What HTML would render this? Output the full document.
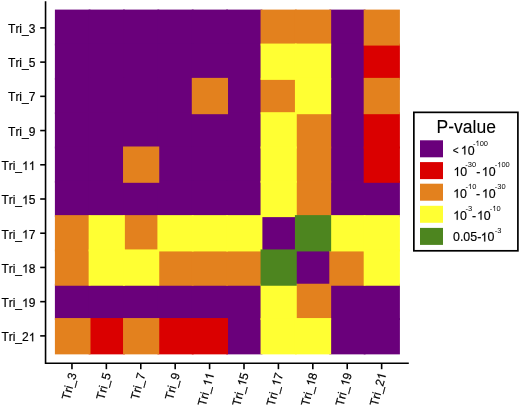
<!DOCTYPE html>
<html><head><meta charset="utf-8"><style>
html,body{margin:0;padding:0;background:#fff;width:520px;height:407px;overflow:hidden}
svg{display:block;will-change:transform}
text{font-family:"Liberation Sans",sans-serif;font-kerning:none;fill:#000;stroke:#000}
.t{font-size:12px;stroke-width:0.2px}
.lt{font-size:17.5px;stroke-width:0.1px}
.ll{font-size:12.4px;stroke-width:0.15px}
.ls{font-size:7.5px;stroke-width:0px;stroke:none}
</style></head><body>
<svg width="520" height="407" viewBox="0 0 520 407">
<g><rect x="54.90" y="9.60" width="35.59" height="35.97" fill="#6a007b"/><rect x="88.65" y="9.60" width="36.22" height="35.97" fill="#6a007b"/><rect x="123.03" y="9.60" width="36.22" height="35.97" fill="#6a007b"/><rect x="157.41" y="9.60" width="36.22" height="35.97" fill="#6a007b"/><rect x="191.79" y="9.60" width="36.22" height="35.97" fill="#6a007b"/><rect x="226.17" y="9.60" width="36.22" height="35.97" fill="#6a007b"/><rect x="329.31" y="9.60" width="36.22" height="35.97" fill="#6a007b"/><rect x="54.90" y="43.57" width="35.59" height="36.31" fill="#6a007b"/><rect x="88.65" y="43.57" width="36.22" height="36.31" fill="#6a007b"/><rect x="123.03" y="43.57" width="36.22" height="36.31" fill="#6a007b"/><rect x="157.41" y="43.57" width="36.22" height="36.31" fill="#6a007b"/><rect x="191.79" y="43.57" width="36.22" height="36.31" fill="#6a007b"/><rect x="226.17" y="43.57" width="36.22" height="36.31" fill="#6a007b"/><rect x="329.31" y="43.57" width="36.22" height="36.31" fill="#6a007b"/><rect x="54.90" y="77.88" width="35.59" height="36.31" fill="#6a007b"/><rect x="88.65" y="77.88" width="36.22" height="36.31" fill="#6a007b"/><rect x="123.03" y="77.88" width="36.22" height="36.31" fill="#6a007b"/><rect x="157.41" y="77.88" width="36.22" height="36.31" fill="#6a007b"/><rect x="226.17" y="77.88" width="36.22" height="36.31" fill="#6a007b"/><rect x="329.31" y="77.88" width="36.22" height="36.31" fill="#6a007b"/><rect x="54.90" y="112.19" width="35.59" height="36.31" fill="#6a007b"/><rect x="88.65" y="112.19" width="36.22" height="36.31" fill="#6a007b"/><rect x="123.03" y="112.19" width="36.22" height="36.31" fill="#6a007b"/><rect x="157.41" y="112.19" width="36.22" height="36.31" fill="#6a007b"/><rect x="191.79" y="112.19" width="36.22" height="36.31" fill="#6a007b"/><rect x="226.17" y="112.19" width="36.22" height="36.31" fill="#6a007b"/><rect x="329.31" y="112.19" width="36.22" height="36.31" fill="#6a007b"/><rect x="54.90" y="146.50" width="35.59" height="36.31" fill="#6a007b"/><rect x="88.65" y="146.50" width="36.22" height="36.31" fill="#6a007b"/><rect x="157.41" y="146.50" width="36.22" height="36.31" fill="#6a007b"/><rect x="191.79" y="146.50" width="36.22" height="36.31" fill="#6a007b"/><rect x="226.17" y="146.50" width="36.22" height="36.31" fill="#6a007b"/><rect x="329.31" y="146.50" width="36.22" height="36.31" fill="#6a007b"/><rect x="54.90" y="180.81" width="35.59" height="36.31" fill="#6a007b"/><rect x="88.65" y="180.81" width="36.22" height="36.31" fill="#6a007b"/><rect x="123.03" y="180.81" width="36.22" height="36.31" fill="#6a007b"/><rect x="157.41" y="180.81" width="36.22" height="36.31" fill="#6a007b"/><rect x="191.79" y="180.81" width="36.22" height="36.31" fill="#6a007b"/><rect x="226.17" y="180.81" width="36.22" height="36.31" fill="#6a007b"/><rect x="329.31" y="180.81" width="36.22" height="36.31" fill="#6a007b"/><rect x="363.69" y="180.81" width="36.21" height="36.31" fill="#6a007b"/><rect x="260.55" y="215.12" width="36.22" height="36.31" fill="#6a007b"/><rect x="294.93" y="249.43" width="36.22" height="36.31" fill="#6a007b"/><rect x="54.90" y="283.74" width="35.59" height="36.31" fill="#6a007b"/><rect x="88.65" y="283.74" width="36.22" height="36.31" fill="#6a007b"/><rect x="123.03" y="283.74" width="36.22" height="36.31" fill="#6a007b"/><rect x="157.41" y="283.74" width="36.22" height="36.31" fill="#6a007b"/><rect x="191.79" y="283.74" width="36.22" height="36.31" fill="#6a007b"/><rect x="226.17" y="283.74" width="36.22" height="36.31" fill="#6a007b"/><rect x="329.31" y="283.74" width="36.22" height="36.31" fill="#6a007b"/><rect x="363.69" y="283.74" width="36.21" height="36.31" fill="#6a007b"/><rect x="226.17" y="318.05" width="36.22" height="36.31" fill="#6a007b"/><rect x="329.31" y="318.05" width="36.22" height="36.31" fill="#6a007b"/><rect x="363.69" y="318.05" width="36.21" height="36.31" fill="#6a007b"/><rect x="363.69" y="43.57" width="36.21" height="36.31" fill="#da0000"/><rect x="363.69" y="112.19" width="36.21" height="36.31" fill="#da0000"/><rect x="363.69" y="146.50" width="36.21" height="36.31" fill="#da0000"/><rect x="88.65" y="318.05" width="36.22" height="36.31" fill="#da0000"/><rect x="157.41" y="318.05" width="36.22" height="36.31" fill="#da0000"/><rect x="191.79" y="318.05" width="36.22" height="36.31" fill="#da0000"/><rect x="260.55" y="9.60" width="36.22" height="35.97" fill="#e3811e"/><rect x="294.93" y="9.60" width="36.22" height="35.97" fill="#e3811e"/><rect x="363.69" y="9.60" width="36.21" height="35.97" fill="#e3811e"/><rect x="191.79" y="77.88" width="36.22" height="36.31" fill="#e3811e"/><rect x="260.55" y="77.88" width="36.22" height="36.31" fill="#e3811e"/><rect x="363.69" y="77.88" width="36.21" height="36.31" fill="#e3811e"/><rect x="294.93" y="112.19" width="36.22" height="36.31" fill="#e3811e"/><rect x="123.03" y="146.50" width="36.22" height="36.31" fill="#e3811e"/><rect x="294.93" y="146.50" width="36.22" height="36.31" fill="#e3811e"/><rect x="294.93" y="180.81" width="36.22" height="36.31" fill="#e3811e"/><rect x="54.90" y="215.12" width="35.59" height="36.31" fill="#e3811e"/><rect x="123.03" y="215.12" width="36.22" height="36.31" fill="#e3811e"/><rect x="54.90" y="249.43" width="35.59" height="36.31" fill="#e3811e"/><rect x="157.41" y="249.43" width="36.22" height="36.31" fill="#e3811e"/><rect x="191.79" y="249.43" width="36.22" height="36.31" fill="#e3811e"/><rect x="226.17" y="249.43" width="36.22" height="36.31" fill="#e3811e"/><rect x="329.31" y="249.43" width="36.22" height="36.31" fill="#e3811e"/><rect x="294.93" y="283.74" width="36.22" height="36.31" fill="#e3811e"/><rect x="54.90" y="318.05" width="35.59" height="36.31" fill="#e3811e"/><rect x="123.03" y="318.05" width="36.22" height="36.31" fill="#e3811e"/><rect x="260.55" y="43.57" width="36.22" height="36.31" fill="#ffff33"/><rect x="294.93" y="43.57" width="36.22" height="36.31" fill="#ffff33"/><rect x="294.93" y="77.88" width="36.22" height="36.31" fill="#ffff33"/><rect x="260.55" y="112.19" width="36.22" height="36.31" fill="#ffff33"/><rect x="260.55" y="146.50" width="36.22" height="36.31" fill="#ffff33"/><rect x="260.55" y="180.81" width="36.22" height="36.31" fill="#ffff33"/><rect x="88.65" y="215.12" width="36.22" height="36.31" fill="#ffff33"/><rect x="157.41" y="215.12" width="36.22" height="36.31" fill="#ffff33"/><rect x="191.79" y="215.12" width="36.22" height="36.31" fill="#ffff33"/><rect x="226.17" y="215.12" width="36.22" height="36.31" fill="#ffff33"/><rect x="329.31" y="215.12" width="36.22" height="36.31" fill="#ffff33"/><rect x="363.69" y="215.12" width="36.21" height="36.31" fill="#ffff33"/><rect x="88.65" y="249.43" width="36.22" height="36.31" fill="#ffff33"/><rect x="123.03" y="249.43" width="36.22" height="36.31" fill="#ffff33"/><rect x="363.69" y="249.43" width="36.21" height="36.31" fill="#ffff33"/><rect x="260.55" y="283.74" width="36.22" height="36.31" fill="#ffff33"/><rect x="260.55" y="318.05" width="36.22" height="36.31" fill="#ffff33"/><rect x="294.93" y="318.05" width="36.22" height="36.31" fill="#ffff33"/><rect x="294.93" y="215.12" width="36.22" height="36.31" fill="#4d851f"/><rect x="260.55" y="249.43" width="36.22" height="36.31" fill="#4d851f"/></g>
<path d="M45.55 1.2V363.2H408.8" fill="none" stroke="#000" stroke-width="1.6"/><line x1="40.2" y1="27.90" x2="45.55" y2="27.90" stroke="#000" stroke-width="1.6"/><text x="8.06" y="32.76" class="t">Tri_3</text><line x1="40.2" y1="62.12" x2="45.55" y2="62.12" stroke="#000" stroke-width="1.6"/><text x="8.06" y="67.05" class="t">Tri_5</text><line x1="40.2" y1="96.34" x2="45.55" y2="96.34" stroke="#000" stroke-width="1.6"/><text x="8.06" y="101.34" class="t">Tri_7</text><line x1="40.2" y1="130.56" x2="45.55" y2="130.56" stroke="#000" stroke-width="1.6"/><text x="8.06" y="135.63" class="t">Tri_9</text><line x1="40.2" y1="164.78" x2="45.55" y2="164.78" stroke="#000" stroke-width="1.6"/><text x="1.39" y="169.92" class="t">Tri_&#x2007;&#x2007;</text><path d="M763 0H583V1147C540 1106 483 1064 413 1023C343 982 280 951 225 930V1104C326 1151 414 1208 489 1274C564 1340 618 1404 649 1466H763Z" transform="translate(22.05,169.92) scale(0.005859,-0.005859)" stroke="#000" stroke-width="34.1"/><path d="M763 0H583V1147C540 1106 483 1064 413 1023C343 982 280 951 225 930V1104C326 1151 414 1208 489 1274C564 1340 618 1404 649 1466H763Z" transform="translate(28.73,169.92) scale(0.005859,-0.005859)" stroke="#000" stroke-width="34.1"/><line x1="40.2" y1="199.00" x2="45.55" y2="199.00" stroke="#000" stroke-width="1.6"/><text x="1.39" y="204.21" class="t">Tri_&#x2007;5</text><path d="M763 0H583V1147C540 1106 483 1064 413 1023C343 982 280 951 225 930V1104C326 1151 414 1208 489 1274C564 1340 618 1404 649 1466H763Z" transform="translate(22.05,204.21) scale(0.005859,-0.005859)" stroke="#000" stroke-width="34.1"/><line x1="40.2" y1="233.22" x2="45.55" y2="233.22" stroke="#000" stroke-width="1.6"/><text x="1.39" y="238.50" class="t">Tri_&#x2007;7</text><path d="M763 0H583V1147C540 1106 483 1064 413 1023C343 982 280 951 225 930V1104C326 1151 414 1208 489 1274C564 1340 618 1404 649 1466H763Z" transform="translate(22.05,238.50) scale(0.005859,-0.005859)" stroke="#000" stroke-width="34.1"/><line x1="40.2" y1="267.44" x2="45.55" y2="267.44" stroke="#000" stroke-width="1.6"/><text x="1.39" y="272.79" class="t">Tri_&#x2007;8</text><path d="M763 0H583V1147C540 1106 483 1064 413 1023C343 982 280 951 225 930V1104C326 1151 414 1208 489 1274C564 1340 618 1404 649 1466H763Z" transform="translate(22.05,272.79) scale(0.005859,-0.005859)" stroke="#000" stroke-width="34.1"/><line x1="40.2" y1="301.66" x2="45.55" y2="301.66" stroke="#000" stroke-width="1.6"/><text x="1.39" y="307.08" class="t">Tri_&#x2007;9</text><path d="M763 0H583V1147C540 1106 483 1064 413 1023C343 982 280 951 225 930V1104C326 1151 414 1208 489 1274C564 1340 618 1404 649 1466H763Z" transform="translate(22.05,307.08) scale(0.005859,-0.005859)" stroke="#000" stroke-width="34.1"/><line x1="40.2" y1="335.88" x2="45.55" y2="335.88" stroke="#000" stroke-width="1.6"/><text x="1.39" y="341.37" class="t">Tri_2&#x2007;</text><path d="M763 0H583V1147C540 1106 483 1064 413 1023C343 982 280 951 225 930V1104C326 1151 414 1208 489 1274C564 1340 618 1404 649 1466H763Z" transform="translate(28.73,341.37) scale(0.005859,-0.005859)" stroke="#000" stroke-width="34.1"/><line x1="71.95" y1="363.2" x2="71.95" y2="369.2" stroke="#000" stroke-width="1.6"/><g transform="translate(76.65,374.0) rotate(-75)"><text x="-27.34" y="0.00" class="t">Tri_3</text></g><line x1="106.36" y1="363.2" x2="106.36" y2="369.2" stroke="#000" stroke-width="1.6"/><g transform="translate(111.06,374.0) rotate(-75)"><text x="-27.34" y="0.00" class="t">Tri_5</text></g><line x1="140.77" y1="363.2" x2="140.77" y2="369.2" stroke="#000" stroke-width="1.6"/><g transform="translate(145.47,374.0) rotate(-75)"><text x="-27.34" y="0.00" class="t">Tri_7</text></g><line x1="175.18" y1="363.2" x2="175.18" y2="369.2" stroke="#000" stroke-width="1.6"/><g transform="translate(179.88,374.0) rotate(-75)"><text x="-27.34" y="0.00" class="t">Tri_9</text></g><line x1="209.59" y1="363.2" x2="209.59" y2="369.2" stroke="#000" stroke-width="1.6"/><g transform="translate(214.29,374.0) rotate(-75)"><text x="-34.01" y="0.00" class="t">Tri_&#x2007;&#x2007;</text><path d="M763 0H583V1147C540 1106 483 1064 413 1023C343 982 280 951 225 930V1104C326 1151 414 1208 489 1274C564 1340 618 1404 649 1466H763Z" transform="translate(-13.35,0.00) scale(0.005859,-0.005859)" stroke="#000" stroke-width="34.1"/><path d="M763 0H583V1147C540 1106 483 1064 413 1023C343 982 280 951 225 930V1104C326 1151 414 1208 489 1274C564 1340 618 1404 649 1466H763Z" transform="translate(-6.67,0.00) scale(0.005859,-0.005859)" stroke="#000" stroke-width="34.1"/></g><line x1="244.00" y1="363.2" x2="244.00" y2="369.2" stroke="#000" stroke-width="1.6"/><g transform="translate(248.70,374.0) rotate(-75)"><text x="-34.01" y="0.00" class="t">Tri_&#x2007;5</text><path d="M763 0H583V1147C540 1106 483 1064 413 1023C343 982 280 951 225 930V1104C326 1151 414 1208 489 1274C564 1340 618 1404 649 1466H763Z" transform="translate(-13.35,0.00) scale(0.005859,-0.005859)" stroke="#000" stroke-width="34.1"/></g><line x1="278.41" y1="363.2" x2="278.41" y2="369.2" stroke="#000" stroke-width="1.6"/><g transform="translate(283.11,374.0) rotate(-75)"><text x="-34.01" y="0.00" class="t">Tri_&#x2007;7</text><path d="M763 0H583V1147C540 1106 483 1064 413 1023C343 982 280 951 225 930V1104C326 1151 414 1208 489 1274C564 1340 618 1404 649 1466H763Z" transform="translate(-13.35,0.00) scale(0.005859,-0.005859)" stroke="#000" stroke-width="34.1"/></g><line x1="312.82" y1="363.2" x2="312.82" y2="369.2" stroke="#000" stroke-width="1.6"/><g transform="translate(317.52,374.0) rotate(-75)"><text x="-34.01" y="0.00" class="t">Tri_&#x2007;8</text><path d="M763 0H583V1147C540 1106 483 1064 413 1023C343 982 280 951 225 930V1104C326 1151 414 1208 489 1274C564 1340 618 1404 649 1466H763Z" transform="translate(-13.35,0.00) scale(0.005859,-0.005859)" stroke="#000" stroke-width="34.1"/></g><line x1="347.23" y1="363.2" x2="347.23" y2="369.2" stroke="#000" stroke-width="1.6"/><g transform="translate(351.93,374.0) rotate(-75)"><text x="-34.01" y="0.00" class="t">Tri_&#x2007;9</text><path d="M763 0H583V1147C540 1106 483 1064 413 1023C343 982 280 951 225 930V1104C326 1151 414 1208 489 1274C564 1340 618 1404 649 1466H763Z" transform="translate(-13.35,0.00) scale(0.005859,-0.005859)" stroke="#000" stroke-width="34.1"/></g><line x1="381.64" y1="363.2" x2="381.64" y2="369.2" stroke="#000" stroke-width="1.6"/><g transform="translate(386.34,374.0) rotate(-75)"><text x="-34.01" y="0.00" class="t">Tri_2&#x2007;</text><path d="M763 0H583V1147C540 1106 483 1064 413 1023C343 982 280 951 225 930V1104C326 1151 414 1208 489 1274C564 1340 618 1404 649 1466H763Z" transform="translate(-6.67,0.00) scale(0.005859,-0.005859)" stroke="#000" stroke-width="34.1"/></g><rect x="413.85" y="112.35" width="104.05" height="138.45" fill="#fff" stroke="#000" stroke-width="1.7"/><text x="452.71" y="153.80" class="ll" style="font-size:10px">&lt;</text><text x="436.6" y="133.2" class="lt">P-value</text><rect x="420" y="140.3" width="23" height="17" fill="#6a007b"/><rect x="420" y="162.1" width="23" height="17" fill="#da0000"/><rect x="420" y="183.7" width="23" height="17" fill="#e3811e"/><rect x="420" y="205.8" width="23" height="17" fill="#ffff33"/><rect x="420" y="227.9" width="23" height="17" fill="#4d851f"/><text x="460.75" y="154.60" class="ll">&#x2007;0</text><path d="M763 0H583V1147C540 1106 483 1064 413 1023C343 982 280 951 225 930V1104C326 1151 414 1208 489 1274C564 1340 618 1404 649 1466H763Z" transform="translate(460.75,154.60) scale(0.006055,-0.006055)" stroke="#000" stroke-width="24.8"/><text x="472.97" y="145.90" class="ls">-&#x2007;00</text><path d="M763 0H583V1147C540 1106 483 1064 413 1023C343 982 280 951 225 930V1104C326 1151 414 1208 489 1274C564 1340 618 1404 649 1466H763Z" transform="translate(475.47,145.90) scale(0.003662,-0.003662)" stroke="#000" stroke-width="0.0"/><text x="453.45" y="176.00" class="ll">&#x2007;0</text><path d="M763 0H583V1147C540 1106 483 1064 413 1023C343 982 280 951 225 930V1104C326 1151 414 1208 489 1274C564 1340 618 1404 649 1466H763Z" transform="translate(453.45,176.00) scale(0.006055,-0.006055)" stroke="#000" stroke-width="24.8"/><text x="465.37" y="167.30" class="ls">-30</text><text x="476.15" y="176.00" class="ll">-</text><text x="481.75" y="176.00" class="ll">&#x2007;0</text><path d="M763 0H583V1147C540 1106 483 1064 413 1023C343 982 280 951 225 930V1104C326 1151 414 1208 489 1274C564 1340 618 1404 649 1466H763Z" transform="translate(481.75,176.00) scale(0.006055,-0.006055)" stroke="#000" stroke-width="24.8"/><text x="494.77" y="167.30" class="ls">-&#x2007;00</text><path d="M763 0H583V1147C540 1106 483 1064 413 1023C343 982 280 951 225 930V1104C326 1151 414 1208 489 1274C564 1340 618 1404 649 1466H763Z" transform="translate(497.27,167.30) scale(0.003662,-0.003662)" stroke="#000" stroke-width="0.0"/><text x="453.15" y="197.80" class="ll">&#x2007;0</text><path d="M763 0H583V1147C540 1106 483 1064 413 1023C343 982 280 951 225 930V1104C326 1151 414 1208 489 1274C564 1340 618 1404 649 1466H763Z" transform="translate(453.15,197.80) scale(0.006055,-0.006055)" stroke="#000" stroke-width="24.8"/><text x="465.47" y="189.10" class="ls">-&#x2007;0</text><path d="M763 0H583V1147C540 1106 483 1064 413 1023C343 982 280 951 225 930V1104C326 1151 414 1208 489 1274C564 1340 618 1404 649 1466H763Z" transform="translate(467.97,189.10) scale(0.003662,-0.003662)" stroke="#000" stroke-width="0.0"/><text x="476.05" y="197.80" class="ll">-</text><text x="481.85" y="197.80" class="ll">&#x2007;0</text><path d="M763 0H583V1147C540 1106 483 1064 413 1023C343 982 280 951 225 930V1104C326 1151 414 1208 489 1274C564 1340 618 1404 649 1466H763Z" transform="translate(481.85,197.80) scale(0.006055,-0.006055)" stroke="#000" stroke-width="24.8"/><text x="494.87" y="189.10" class="ls">-30</text><text x="453.15" y="219.70" class="ll">&#x2007;0</text><path d="M763 0H583V1147C540 1106 483 1064 413 1023C343 982 280 951 225 930V1104C326 1151 414 1208 489 1274C564 1340 618 1404 649 1466H763Z" transform="translate(453.15,219.70) scale(0.006055,-0.006055)" stroke="#000" stroke-width="24.8"/><text x="465.47" y="211.00" class="ls">-3</text><text x="472.05" y="219.70" class="ll">-</text><text x="476.95" y="219.70" class="ll">&#x2007;0</text><path d="M763 0H583V1147C540 1106 483 1064 413 1023C343 982 280 951 225 930V1104C326 1151 414 1208 489 1274C564 1340 618 1404 649 1466H763Z" transform="translate(476.95,219.70) scale(0.006055,-0.006055)" stroke="#000" stroke-width="24.8"/><text x="489.77" y="211.00" class="ls">-&#x2007;0</text><path d="M763 0H583V1147C540 1106 483 1064 413 1023C343 982 280 951 225 930V1104C326 1151 414 1208 489 1274C564 1340 618 1404 649 1466H763Z" transform="translate(492.27,211.00) scale(0.003662,-0.003662)" stroke="#000" stroke-width="0.0"/><text x="453.02" y="241.40" class="ll">0.05-</text><text x="480.65" y="241.40" class="ll">&#x2007;0</text><path d="M763 0H583V1147C540 1106 483 1064 413 1023C343 982 280 951 225 930V1104C326 1151 414 1208 489 1274C564 1340 618 1404 649 1466H763Z" transform="translate(480.65,241.40) scale(0.006055,-0.006055)" stroke="#000" stroke-width="24.8"/><text x="494.67" y="232.70" class="ls">-3</text>
</svg>
</body></html>
